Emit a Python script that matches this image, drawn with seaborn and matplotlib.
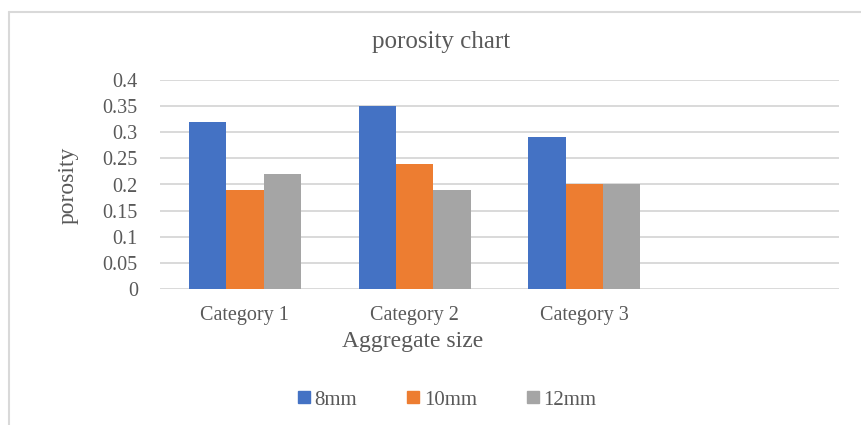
import pandas as pd
import numpy as np
import matplotlib.pyplot as plt
import seaborn as sns
from matplotlib.lines import Line2D

# Data
categories = ['Category 1', 'Category 2', 'Category 3']
sizes = ['8mm', '10mm', '12mm']
vals_8mm = [0.32, 0.35, 0.29]
vals_10mm = [0.19, 0.24, 0.20]
vals_12mm = [0.22, 0.19, 0.20]
yticks = [0, 0.05, 0.1, 0.15, 0.2, 0.25, 0.3, 0.35, 0.4]
ytick_labels = ['0', '0.05', '0.1', '0.15', '0.2', '0.25', '0.3', '0.35', '0.4']
colors = ['#4472C4', '#ED7D31', '#A5A5A5']

df = pd.DataFrame({
    'Category': categories * 3,
    'Size': [s for s in sizes for _ in categories],
    'porosity': vals_8mm + vals_10mm + vals_12mm,
})

sns.set_style('white')
plt.rcParams['font.family'] = ['Liberation Serif', 'DejaVu Serif']
text_color = '#595959'

fig = plt.figure(figsize=(8.61, 4.25), dpi=100)
ax = fig.add_axes([160 / 861, 1 - 289 / 425, 679 / 861, 209 / 425])

sns.barplot(data=df, x='Category', y='porosity', hue='Size', hue_order=sizes,
            palette=colors, width=0.66, saturation=1, ax=ax, legend=False,
            edgecolor='none', linewidth=0, zorder=3)

ax.set_xlim(-0.5, 3.5)
ax.set_ylim(0, 0.4)
ax.set_yticks(yticks)
ax.set_yticklabels(ytick_labels)
ax.set_xticks(range(len(categories)))
ax.set_xticklabels(categories)
ax.tick_params(axis='both', length=0, labelsize=14.5, colors=text_color)
ax.tick_params(axis='x', pad=12)
ax.tick_params(axis='y', pad=16)
ax.grid(axis='y', color='#D9D9D9', linewidth=1.4, zorder=0)
ax.grid(axis='x', visible=False)
for s in ax.spines.values():
    s.set_visible(False)
ax.set_xlabel('')
ax.set_ylabel('')

fig.text(68 / 861, 1 - 185 / 425, 'porosity', rotation=90, ha='center', va='center',
         fontsize=17, color=text_color)
fig.text(413 / 861, 1 - 342 / 425, 'Aggregate size', ha='center', va='center',
         fontsize=17, color=text_color)
fig.text(441 / 861, 1 - 42 / 425, 'porosity chart', ha='center', va='center',
         fontsize=18, color=text_color)

handles = [Line2D([0], [0], marker='s', linestyle='none', markersize=8,
                  markerfacecolor=c, markeredgecolor=c) for c in colors]
fig.legend(handles, sizes, loc='center', bbox_to_anchor=(445 / 861, 1 - 400 / 425),
           ncol=3, frameon=False, fontsize=15, labelcolor=text_color,
           handletextpad=0.0, columnspacing=2.2, handlelength=1.0)

# chart border
fig.add_artist(Line2D([9 / 861, 9 / 861], [0, 1 - 12 / 425], color='#D9D9D9', linewidth=1.5))
fig.add_artist(Line2D([9 / 861, 1], [1 - 12 / 425, 1 - 12 / 425], color='#D9D9D9', linewidth=1.5))

fig.savefig('out.png', dpi=100)
